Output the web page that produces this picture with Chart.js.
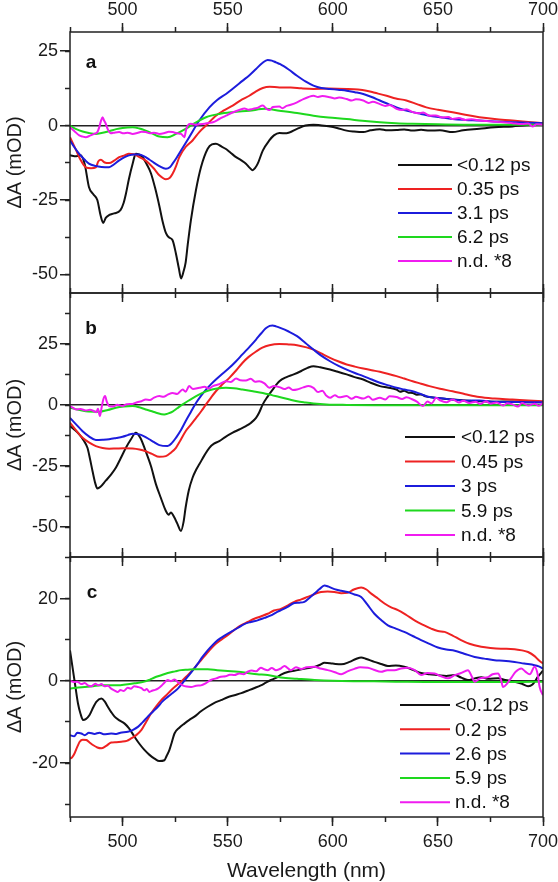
<!DOCTYPE html>
<html>
<head>
<meta charset="utf-8">
<script src="https://cdn.jsdelivr.net/npm/chart.js@4.4.1/dist/chart.umd.min.js"></script>
<style>
  html, body { margin: 0; padding: 0; background: #fff; }
  #wrap { position: relative; width: 558px; height: 882px; overflow: hidden; }
  #wrap canvas { position: absolute; left: 0; }
</style>
</head>
<body>
<div id="wrap">
  <canvas id="chartA" width="558" height="303" style="top:0px"></canvas>
  <canvas id="chartB" width="558" height="284" style="top:283px"></canvas>
  <canvas id="chartC" width="558" height="335" style="top:547px"></canvas>
</div>
<script>
// ---- data (wavelength nm, ΔA mOD) ----
const labelsA = ['<0.12 ps', '0.35 ps', '3.1 ps', '6.2 ps', 'n.d. *8'];
const labelsB = ['<0.12 ps', '0.45 ps', '3 ps', '5.9 ps', 'n.d. *8'];
const labelsC = ['<0.12 ps', '0.2 ps', '2.6 ps', '5.9 ps', 'n.d. *8'];

const xMajorTicks = [500, 550, 600, 650, 700];
const xMinorTicks = [475, 500, 525, 550, 575, 600, 625, 650, 675, 700];
const yRangeA = [-56.2, 31.4];
const yMajorA = [-50, -25, 0, 25];
const yMinorA = [-50, -37.5, -25, -12.5, 0, 12.5, 25];
const yRangeB = [-62.3, 46];
const yMajorB = [-50, -25, 0, 25];
const yMinorB = [-50, -37.5, -25, -12.5, 0, 12.5, 25, 37.5];
const yRangeC = [-33.1, 30.1];
const yMajorC = [-20, 0, 20];
const yMinorC = [-30, -20, -10, 0, 10, 20, 30];

// panel a
const aBlack = [[475,-10],[478,-10.3],[480,-10],[482,-13],[484,-20.6],[486,-23],[488,-25],[489.5,-30],[490.8,-32.7],[492,-31],[493.7,-30],[496,-29.5],[499,-28.4],[500.5,-26],[501.6,-22.9],[503,-18],[504.8,-12.8],[506.3,-9.5],[508,-9.8],[509.5,-10.6],[511.5,-13],[513.5,-16],[515.5,-21],[517.5,-27],[519,-32],[520.6,-36],[522,-37.5],[523.8,-38.5],[525.4,-43],[526.8,-48],[527.8,-51.3],[529,-49],[530,-46],[531,-40],[532.5,-31.8],[534.9,-21.7],[537.3,-14],[540.5,-7.8],[542.5,-6.3],[544.4,-6.1],[547,-7],[549,-7.8],[551.5,-9.2],[554,-10.6],[556.5,-11.7],[558.7,-12.8],[560.5,-14.2],[561.9,-15],[563,-14.3],[564.3,-12.8],[566.7,-8.4],[569.8,-5],[572,-3.3],[574.6,-2.5],[578,-2.6],[583,-1.1],[587,0],[590.8,0.3],[594,0.1],[598.7,-0.3],[602,-0.8],[606.6,-1.7],[610,-2],[614.5,-2.2],[618,-1.6],[622.4,-1.2],[626,-1.6],[630.3,-1.5],[634,-1.3],[638,-1.7],[642,-1.4],[646,-1.7],[651,-1.6],[657,-2.2],[662,-1.6],[669.7,-1.1],[677,-0.6],[685.5,-0.3],[692,0.1],[700,0.3]];
const aRed = [[475,-3.9],[478,-8.4],[480,-11.5],[482.5,-14],[485,-14.3],[487.3,-14],[488.5,-12],[489.7,-11.5],[491.5,-12.4],[493.6,-12.6],[496,-11.8],[498.4,-10.6],[501,-10],[503,-9.5],[505.5,-9.6],[508,-10.6],[510.5,-11.5],[512.7,-12.8],[515,-14.5],[517.5,-16.7],[520.6,-18],[522.5,-17.5],[523.8,-16.2],[525.5,-13.5],[527,-10.6],[530,-7.2],[533.3,-5],[536.5,-2.2],[539.7,0],[544.4,3.3],[548,5],[552.4,6.7],[556,8.4],[560.3,10],[563.5,11.5],[566.7,12.6],[570,13],[574.6,12.8],[580,12.8],[585,12.5],[590.8,12.3],[598,12.4],[606.6,12.3],[612,12.1],[616,11.7],[620,11],[625.6,10],[630,9.1],[635,8.4],[640,7.2],[644.5,6.1],[650,5.3],[657,4.5],[663,3.6],[669.7,2.8],[677,2.2],[685.5,1.7],[693,1.2],[700,0.8]];
const aBlue = [[475,-5],[477,-7.2],[479.4,-9.5],[482,-11.5],[484,-12.8],[487.3,-13.6],[490,-13.9],[493.6,-14],[496,-13],[498.4,-11.7],[501,-10.6],[503,-10],[505.5,-9.7],[508,-9.7],[510.5,-10.4],[512.7,-11.4],[515,-12.5],[517.5,-13.6],[520.6,-14.5],[522.5,-14],[523.8,-12.8],[525.8,-10.7],[527.8,-8.4],[531.7,-3.9],[536.5,1.7],[541.3,6.1],[545,8.6],[549.2,10.6],[553,12.7],[557,15],[560.5,17],[563.5,19],[566.5,21],[569,22],[571,21.8],[573,21.2],[575,20.6],[579,18.8],[583,16.7],[587,14.8],[590.8,13.4],[594.5,12.6],[598.7,12.3],[602.5,12],[606.6,11.7],[610.5,11.2],[614.5,10.6],[618.5,9.6],[622.4,8.4],[626.5,7.2],[630.3,6.1],[634,5.2],[638,4.5],[642,3.9],[646,3.3],[651,2.8],[657,2.2],[663,1.9],[669.7,1.7],[677,1.4],[685.5,1.1],[693,0.9],[700,0.8]];
const aGreen = [[475,0],[478,-1.2],[481,-2],[484,-2.5],[487.3,-2.8],[490,-2.5],[493.6,-1.9],[497,-1.2],[500,-0.8],[504.8,-0.6],[508,-1],[511,-1.7],[514,-2.6],[517.5,-3.7],[521.4,-3.9],[525.4,-2.8],[530,-1.1],[535,1.1],[539.7,2.8],[546,3.9],[552.4,4.5],[560.3,5],[568,5.6],[574.6,5],[583,4.2],[590.8,3.3],[598,2.7],[606.6,2.2],[614,1.6],[622.4,1.1],[630,0.8],[638,0.6],[650,0.4],[662,0.3],[680,0.3],[700,0.3]];
const aMagenta = [[475,-0.6],[477,-1.8],[479.4,-3.3],[481,-3.7],[482.5,-3.9],[484.5,-3.4],[486.5,-2.8],[488,-2.2],[488.9,-0.6],[489.7,1.5],[490.5,2.8],[491.2,1.7],[492,0.6],[493,-1.3],[494.4,-2.6],[496.5,-2.3],[498.4,-2.2],[500.5,-2.6],[502.5,-2.4],[504.8,-2.8],[507,-2.5],[509,-2.1],[511,-2.2],[513,-2.6],[515,-2.4],[517.5,-2.8],[520,-2.5],[522,-2.1],[523.8,-2.2],[526,-2.6],[527.8,-2.8],[528.8,-3.5],[529.4,-3.9],[530.2,-1.5],[531,0],[532.5,0.6],[534.5,0.3],[536.5,0.4],[539,0.6],[541,0.9],[543,1.1],[546,2.2],[549.2,3.3],[552,4.3],[555.5,5.2],[558,5.7],[560,5.3],[561.9,5.6],[564,5.9],[566.7,6.7],[568.5,5.6],[569.8,5.2],[571.5,6.2],[574.6,6.4],[576,5.8],[578,6.6],[580,7],[583,7.8],[586,8.9],[588.5,9.6],[590.8,10],[593,9.6],[595,9.9],[598.7,9.5],[601,9.1],[603,9.4],[606.6,8.9],[609,8.4],[611,8.8],[614.5,8.4],[617,7.6],[619,8],[622.4,7.2],[625,6.6],[627,6.9],[630.3,5.6],[633,5.2],[635,5.5],[638,4.5],[641,4.1],[643,4.4],[646,3.3],[649,3.4],[652,2.7],[655,2.9],[657,2.2],[660,2.5],[663,1.9],[666,2.1],[669.7,1.7],[673,1.5],[677,1.3],[681,1.1],[685.5,0.8],[690,0.5],[693,0.7],[695,-0.3],[697,0.4],[700,0.3]];

// panel b
const bBlack = [[475,-8.6],[477,-10],[479.4,-12],[481.5,-14.5],[483.3,-17.5],[484.5,-22],[485.7,-27],[487,-32],[488,-34.2],[489.5,-33.5],[492,-31],[494.5,-28.5],[496.8,-25.7],[499,-22],[501.6,-17.5],[504,-14],[506.3,-11.3],[508.5,-13.5],[511,-18.9],[513.5,-25],[515.9,-32.5],[518.2,-38],[520.6,-43.4],[522,-45],[523,-44],[524.6,-46],[526,-48.5],[527.8,-51.6],[529,-48],[530,-42],[531.5,-35],[533.3,-29.8],[535,-26.5],[536.5,-24.3],[539,-20.5],[541.3,-17.5],[543.5,-15.8],[546,-14.8],[549,-13],[552.4,-11.3],[555.5,-10],[558.7,-8.6],[561,-7.3],[563.5,-5.2],[565,-3],[566.7,0.3],[569,3.5],[571.4,6.4],[574.6,9.8],[578,11.5],[581.4,12.6],[585,14],[588,15.3],[590.8,16],[594,15.5],[598.7,14.6],[602,13.8],[606.6,12.6],[610,11.6],[614.5,10.5],[618,9.2],[622.4,7.8],[626,7.2],[630.3,6.4],[632,5.5],[634,5.9],[636,5.1],[638,5],[640,4.3],[642,4.4],[644,3.6],[646,3.3],[651,2.8],[657,2.3],[663,1.9],[669.7,1.6],[677,1.4],[685.5,1.5],[692,1.2],[700,1.2]];
const bRed = [[475,-7.2],[478,-10.5],[481,-13.4],[484,-15.3],[487.3,-16.8],[490.5,-17.6],[493.6,-17.9],[497,-17.8],[500.5,-17.7],[504.8,-17.8],[508,-18.2],[511,-18.9],[514,-20],[517.5,-21.2],[520.6,-20.9],[523,-19.5],[525.4,-17.5],[527.5,-14.5],[530,-10.7],[532.5,-8],[535,-5.2],[537.5,-2.4],[539.7,0.3],[542,3],[544.4,5.7],[547.5,8.5],[550.8,11.2],[554,14.2],[557,17.3],[560,19.8],[563.5,22],[566.5,23.6],[569.8,24.6],[574.6,25.1],[579,24.9],[583,24.6],[587,23.8],[590.8,22.8],[594.5,21.2],[598.7,19.4],[602.5,18],[606.6,16.7],[610.5,15.8],[614.5,15],[618.5,14.3],[622.4,13.7],[626.5,12.8],[630.3,11.9],[634,10.9],[638,9.8],[642,8.8],[646,7.8],[651,6.7],[657,5.7],[663,4.5],[669.7,3.3],[677,2.7],[685.5,2.3],[693,1.9],[700,1.6]];
const bBlue = [[475,-5.2],[478,-8],[481,-10.7],[484,-12.8],[487.3,-14.3],[490.5,-14.2],[493.6,-14],[497,-13.5],[500,-13],[502.5,-12.3],[504.8,-11.7],[508,-12],[510.5,-12.9],[512.7,-14],[515,-15.2],[517.5,-16.4],[521.4,-16.8],[523.5,-15.5],[525.4,-13.4],[527.8,-10.2],[530,-6.6],[532.5,-2.8],[535,1],[537.3,3.8],[539.7,6.4],[542,8.5],[544.4,10.5],[547.5,12.9],[550.8,15.3],[554,18],[557,20.8],[560.5,24],[563.5,26.9],[566,29.5],[568,31.4],[570,32.5],[571.4,32.7],[573,32.3],[575,31.7],[579,30.2],[583,28.3],[587,25.5],[590.8,22.8],[594.5,20.3],[598.7,18],[602.5,16.2],[606.6,14.6],[610.5,13.2],[614.5,11.9],[618.5,10.5],[622.4,9.2],[626.5,8.1],[630.3,7.1],[634,6.4],[638,5.7],[642,4.5],[646,3.3],[651,2.8],[657,2.3],[663,1.8],[669.7,1.9],[677,1.4],[685.5,1.3],[693,1.2],[700,1.2]];
const bGreen = [[475,-1.1],[478.5,-1.8],[482.5,-2.5],[488.9,-2.7],[493,-2],[496.8,-1.1],[500.5,-0.6],[504.8,-0.4],[508,-0.9],[511,-1.8],[513.5,-2.4],[516,-3.1],[519.8,-3.8],[521.8,-3.4],[523.8,-2.7],[526,-1.3],[528.6,0.3],[531.5,1.9],[535,3.7],[538,5],[541.3,6.1],[545,6.8],[549.2,7.1],[553,6.9],[557,6.4],[562,5.7],[566.7,5],[571,4.1],[574.6,3.3],[579,2.4],[583,1.6],[587,1.1],[590.8,0.7],[597,0.3],[606.6,0.1],[620,0],[650,0],[700,0]];
const bMagenta = [[475,-0.4],[476.5,-1.1],[478,-1.8],[480,-1.6],[482.5,-2.2],[484.5,-1.9],[486.5,-2.5],[487.5,-2.9],[488.3,-1.5],[489.2,-4.5],[490,-1.2],[490.8,2.2],[491.7,3.7],[492.5,1.4],[493.6,-0.4],[495.5,-0.6],[497.5,0.2],[500,-0.4],[502,0.4],[504.8,0.5],[507,1.2],[509,1.6],[511,2.3],[513,2.1],[515,3.1],[517.5,3.7],[519.5,3.4],[521.5,4.3],[523.8,5],[526,4.6],[528.6,6.4],[530,5.5],[531.7,7.8],[533.5,6.6],[536.5,7.1],[539,7.5],[541,6.8],[543,7.8],[546,8.6],[549.2,9.8],[551.5,9.5],[554,10.9],[556,10.2],[558.7,10.1],[561,10.8],[563,9.6],[565,9.8],[567.5,8.9],[569.8,7.1],[572,7.9],[574.6,7.4],[577,6.6],[579,7.2],[581,6.2],[583,6.4],[586,7.3],[588.5,7.8],[590.8,7.1],[593,5.4],[595,5.9],[597,3.8],[598.7,3],[601,4.1],[603,3.2],[606.6,3.7],[609,2.6],[611,3.4],[614.5,2.7],[617,3.5],[619,2.2],[622.4,3],[625,2.3],[627,3.6],[630.3,3.3],[633,2.5],[635,3.2],[638,2.3],[640,1.4],[642.9,-0.4],[645,1.5],[647,0.7],[649.2,3],[651,2],[654,1.2],[657,2.3],[660,1.1],[662,1.8],[665,0.9],[668,1.4],[670,0.5],[672.9,1.6],[675,0.6],[678,1.1],[681,-0.2],[683,0.8],[685.5,0.3],[688,-0.6],[690,0.9],[693,-0.2],[696,0.6],[698,-0.3],[700,0.9]];

// panel c
const cBlack = [[475,7.4],[476.4,2.6],[477.6,-1.5],[478.8,-5.5],[480,-8],[481.2,-9.5],[482.5,-9.3],[484.3,-8.3],[486,-6.5],[487.5,-5.1],[489.9,-4.3],[491.5,-5],[493,-6.3],[494.6,-7.6],[496.2,-8.7],[498.5,-9.6],[501,-10.4],[503,-11.5],[505.7,-13.6],[508,-15.3],[510.4,-16.8],[512.8,-18],[515.2,-18.9],[517.5,-19.5],[519.9,-19.3],[521,-18.2],[522.3,-16.8],[523.5,-14.8],[524.7,-12.8],[527,-11.4],[529.4,-10.4],[531.8,-9.5],[534.2,-8.7],[537.3,-7.4],[540.5,-6.3],[543.5,-5.4],[546.8,-4.7],[550,-4],[553.2,-3.5],[556.5,-3],[559.5,-2.4],[562.5,-1.8],[565.8,-1.1],[568,-0.5],[570.6,0.2],[573,0.7],[575.4,1.5],[579,2.2],[583.3,2.6],[587,3],[591.3,3.4],[594,3.9],[596,4.4],[600,4.2],[604,4],[608,4.6],[611,5.3],[613.5,5.7],[616,5.3],[619.8,4.6],[623,4.1],[626.2,3.6],[630,3.7],[634,3.4],[638,2.7],[642,1.9],[646,1.6],[650,1.4],[654,1.2],[658,1.4],[661,0.8],[664.3,0.2],[667.5,0.6],[670.6,0.9],[674,0.5],[678.6,0.6],[682,0.2],[686.5,-0.2],[690,-0.7],[692.9,-1.3],[695,-0.9],[697.6,1],[700,2.5]];
const cRed = [[475,-18.9],[476,-18.6],[477.2,-17.6],[478.5,-16],[479.6,-14.8],[481,-14.3],[482.8,-14.4],[484.3,-15],[485.9,-15.6],[488,-16.2],[489.9,-16.4],[492,-15.9],[494.6,-15],[497,-14.9],[499.4,-14.8],[502,-14.6],[504.1,-14],[506.5,-13.2],[508.9,-12],[511.2,-10],[513.6,-7.9],[516,-6.2],[518.4,-4.7],[520.8,-3.5],[523.1,-2.3],[525.5,-1.2],[527.8,-0.2],[530.2,1],[532.6,2.2],[535,3.6],[537.3,5],[540.5,6.9],[543.7,8.7],[547,10],[550,11.1],[553,12.3],[556.3,13.5],[559.5,14.3],[562.7,15.1],[566,15.7],[569,16.3],[572,17.1],[575.3,17.5],[578.5,18.3],[581.7,19.2],[585,19.8],[588,20.4],[591,21],[594.4,21.6],[597.5,21.7],[600.8,21.6],[604,21.3],[607,21.4],[610,22.2],[613.5,22.7],[616,22.2],[618.3,21.2],[621.5,20],[624.6,18.8],[628,17.8],[631,17.2],[635,16],[638.9,14.7],[643,13.6],[646.8,12.7],[650,12.1],[653.2,11.9],[657,11],[661,9.9],[665,9],[670.6,8.3],[675,8],[680,7.8],[686.5,7.7],[690,7.4],[692.9,7],[696,6],[698,5],[700,4.2]];
const cBlue = [[475,-13.2],[477,-13.5],[478.5,-12.6],[480.4,-12.8],[482,-13.2],[484,-12.6],[486.7,-12.9],[489,-12.6],[491,-13],[494.6,-12.8],[497,-12.9],[499,-12.6],[502.5,-12.4],[505,-11.9],[507.3,-11.2],[509.5,-10.1],[512,-8.7],[514.4,-7.5],[516.8,-6.3],[519,-5],[521.5,-3.9],[524,-2.9],[526.3,-1.9],[528.6,-0.5],[531,1],[533.5,2.6],[535.8,4.2],[538,5.8],[540.5,7.4],[543,8.8],[545.3,9.9],[548.5,11],[551.6,11.9],[555,12.9],[557.9,13.8],[561,14.3],[564.2,14.7],[567.5,15.3],[570.6,15.9],[573,16.6],[575.4,17.2],[578.5,18],[581.7,18.9],[584,19],[586.5,19.2],[589,20.2],[591.3,21.2],[593.7,22.3],[596,23.2],[598,22.9],[600.8,22.3],[604,21.9],[607,21.6],[610.3,21],[613.5,20.4],[616.5,18.5],[619.8,16.3],[623,14.8],[626.2,13.5],[630,12.7],[634,11.9],[638,10.9],[642,9.9],[646,9],[650,8.1],[654,7.6],[658,7.3],[662.5,6.6],[667.5,5.8],[672,5.4],[677,5],[681,4.9],[686.5,4.6],[691,4.2],[696,3.8],[698,3.5],[700,3]];
const cGreen = [[475,-1.9],[478,-1.7],[482,-1.5],[486,-1.3],[489.9,-1.1],[494,-1.1],[497.8,-1.1],[501.5,-0.9],[505.7,-0.6],[510.4,-0.2],[513,0.3],[515.2,0.8],[518,1.3],[521.5,1.9],[525,2.3],[527.8,2.6],[531,2.7],[534.2,2.8],[540.5,2.8],[545,2.6],[550,2.4],[555,2.2],[559.5,1.9],[564,1.6],[569,1.4],[575.3,0.8],[583,0.5],[591.3,0.2],[600,0],[615,-0.1],[630,-0.2],[650,-0.3],[670,-0.3],[685,-0.3],[700,-0.2]];
const cMagenta = [[475,0],[477,-0.3],[478.5,-0.2],[480.4,-0.8],[482,-0.5],[483.5,-1.1],[485.1,-1.3],[487,-0.7],[488.5,-1.1],[489.9,-0.8],[491.5,-1.3],[493,-1.2],[494.6,-1.9],[496,-2.3],[497.8,-2.7],[499,-2.2],[500.5,-2.5],[502.5,-1.7],[504,-1.9],[505.5,-1.3],[507.3,-1.5],[509,-1.8],[510.4,-2.3],[511.5,-2],[512.8,-2.7],[514,-2.4],[515.5,-2.2],[516.8,-1.9],[518.5,-1.2],[520,-0.4],[521.5,0.2],[523,-0.1],[524.7,0.3],[526.5,-0.4],[528.6,-1.1],[530.5,-1.4],[532.6,-1.5],[535,-1.2],[537.3,-1.1],[539.5,-0.6],[542,0.2],[544.5,0.6],[546.8,1],[549,1.1],[551,1.5],[553.2,1.4],[555.5,1.8],[557.5,1.6],[559.5,2.2],[561.5,2.5],[563.5,2.3],[565.8,3.2],[567.5,2.8],[569,2.6],[571,3.1],[573,2.6],[575.3,3],[577,3.6],[580,2.6],[582.5,3.3],[585,2.9],[587.5,3.3],[591.3,3.4],[594,3],[597.6,2.6],[601,2.1],[604,1.6],[607,2.3],[610.3,2.9],[613,3.3],[616.7,3.2],[619.5,2.7],[623,2.2],[626,2.6],[629.4,2.6],[632.5,3],[635.7,3.2],[639,2.6],[642,1.4],[645,1.9],[648.4,1.8],[651.5,1.1],[654.8,0.6],[658,1.4],[661,1.9],[664.3,2.6],[666,1.2],[667.5,-0.2],[670,0.6],[673.8,0.9],[676,1.6],[678.6,1.8],[680,0.3],[681,-1.5],[683,-0.6],[685,0.8],[687,2.2],[689.7,3],[691.5,2.3],[693.7,1.6],[696,3.4],[697.5,1.5],[698.4,-1.5],[700,-3.5]];

// ---- styling ----
const FONT = "'Liberation Sans', Arial, Helvetica, sans-serif";
const seriesColors = ['#111111', '#ee2222', '#1c1cdc', '#1ed81e', '#f01cf0'];
const axisColor = '#222222';

Chart.defaults.font.family = FONT;
Chart.defaults.color = '#1a1a1a';
Chart.defaults.animation = false;

function fixedTicks(values) {
    return s => { s.ticks = values.map(v => ({ value: v })); };
}

function xMajor(position, showLabels, height, title) {
    return {
        type: 'linear', position, min: 475, max: 700, weight: 1,
        afterBuildTicks: fixedTicks(xMajorTicks),
        afterFit: s => { s.height = height; s.paddingLeft = 0; s.paddingRight = 0; },
        ticks: { display: showLabels, padding: position === 'top' ? 2 : 5, maxRotation: 0, autoSkip: false, font: { size: 18 } },
        grid: { drawOnChartArea: false, tickLength: 9, tickColor: axisColor, tickWidth: 1.5 },
        border: { display: false },
        title: title
            ? { display: true, text: 'Wavelength (nm)', font: { size: 21, lineHeight: 1 }, padding: { top: 0, bottom: 0 } }
            : { display: false }
    };
}

function xMinor(position) {
    return {
        type: 'linear', position, min: 475, max: 700, weight: 0,
        afterBuildTicks: fixedTicks(xMinorTicks),
        afterFit: s => { s.height = 0; s.paddingLeft = 0; s.paddingRight = 0; },
        ticks: { display: false },
        grid: { drawOnChartArea: false, tickLength: 5, tickColor: axisColor, tickWidth: 1.5 },
        border: { display: false }
    };
}

function yMajor(range, values) {
    return {
        type: 'linear', position: 'left', min: range[0], max: range[1], weight: 1,
        afterBuildTicks: fixedTicks(values),
        afterFit: s => { s.width = 70; s.paddingTop = 0; s.paddingBottom = 0; },
        ticks: { padding: 2, font: { size: 18 } },
        grid: {
            drawOnChartArea: true,
            color: c => (c.tick && c.tick.value === 0 ? axisColor : 'rgba(0,0,0,0)'),
            lineWidth: 1.5,
            tickLength: 10, tickColor: axisColor, tickWidth: 1.5
        },
        border: { display: false },
        title: { display: true, text: 'ΔA (mOD)', font: { size: 20 }, padding: { top: 3, bottom: 0 } }
    };
}

function yMinor(range, values) {
    return {
        type: 'linear', position: 'left', min: range[0], max: range[1], weight: 0,
        afterBuildTicks: fixedTicks(values),
        afterFit: s => { s.width = 0; s.paddingTop = 0; s.paddingBottom = 0; },
        ticks: { display: false },
        grid: { drawOnChartArea: false, tickLength: 5, tickColor: axisColor, tickWidth: 1.5 },
        border: { display: false }
    };
}

function makeDatasets(labels, series) {
    return series.map((pts, i) => ({
        label: labels[i],
        data: pts.map(([x, y]) => ({ x, y })),
        borderColor: seriesColors[i],
        backgroundColor: seriesColors[i],
        borderWidth: 2,
        pointRadius: 0,
        cubicInterpolationMode: 'monotone',
        order: series.length - 1 - i
    }));
}

// frame, panel letter and in-plot legend
const panelDecor = {
    id: 'panelDecor',
    afterDatasetsDraw(chart, args, o) {
        const { ctx, chartArea: a } = chart;
        ctx.save();
        ctx.strokeStyle = axisColor;
        ctx.lineWidth = 1.5;
        ctx.strokeRect(a.left, a.top, a.right - a.left, a.bottom - a.top);

        ctx.fillStyle = '#111';
        ctx.font = 'bold 19px ' + FONT;
        ctx.textAlign = 'center';
        ctx.textBaseline = 'middle';
        ctx.fillText(o.letter, a.left + o.letterX, a.top + o.letterY);

        ctx.font = '19px ' + FONT;
        ctx.textAlign = 'left';
        chart.data.datasets.forEach((ds, i) => {
            const y = a.top + o.legendTop + i * o.legendGap;
            ctx.strokeStyle = ds.borderColor;
            ctx.lineWidth = 2;
            ctx.beginPath();
            ctx.moveTo(a.right - o.lineFrom, y);
            ctx.lineTo(a.right - o.lineTo, y);
            ctx.stroke();
            ctx.fillText(ds.label, a.right - o.textFrom, y + 1);
        });
        ctx.restore();
    }
};

function makePanel(id, p) {
    return new Chart(document.getElementById(id), {
        type: 'line',
        data: { datasets: makeDatasets(p.labels, p.series) },
        options: {
            responsive: false,
            layout: { autoPadding: false, padding: { left: 0, right: 15, top: 0, bottom: 0 } },
            plugins: { legend: { display: false }, tooltip: { enabled: false }, panelDecor: p.decor },
            scales: {
                x: xMajor('bottom', p.bottomLabels, p.bottomH, p.bottomLabels),
                xm: xMinor('bottom'),
                xt: xMajor('top', p.topLabels, p.topH, false),
                xtm: xMinor('top'),
                y: yMajor(p.range, p.yMajor),
                ym: yMinor(p.range, p.yMinor)
            }
        },
        plugins: [panelDecor]
    });
}

makePanel('chartA', {
    labels: labelsA, series: [aBlack, aRed, aBlue, aGreen, aMagenta],
    range: yRangeA, yMajor: yMajorA, yMinor: yMinorA,
    topLabels: true, topH: 32, bottomLabels: false, bottomH: 10,
    decor: { letter: 'a', letterX: 21, letterY: 31, legendTop: 133, legendGap: 24, lineFrom: 145, lineTo: 91, textFrom: 86 }
});
makePanel('chartB', {
    labels: labelsB, series: [bBlack, bRed, bBlue, bGreen, bMagenta],
    range: yRangeB, yMajor: yMajorB, yMinor: yMinorB,
    topLabels: false, topH: 10, bottomLabels: false, bottomH: 10,
    decor: { letter: 'b', letterX: 21, letterY: 36, legendTop: 144, legendGap: 24.5, lineFrom: 138, lineTo: 88, textFrom: 82 }
});
makePanel('chartC', {
    labels: labelsC, series: [cBlack, cRed, cBlue, cGreen, cMagenta],
    range: yRangeC, yMajor: yMajorC, yMinor: yMinorC,
    topLabels: false, topH: 10, bottomLabels: true, bottomH: 65,
    decor: { letter: 'c', letterX: 22, letterY: 36, legendTop: 148, legendGap: 24.3, lineFrom: 143, lineTo: 93, textFrom: 88 }
});
</script>
</body>
</html>
